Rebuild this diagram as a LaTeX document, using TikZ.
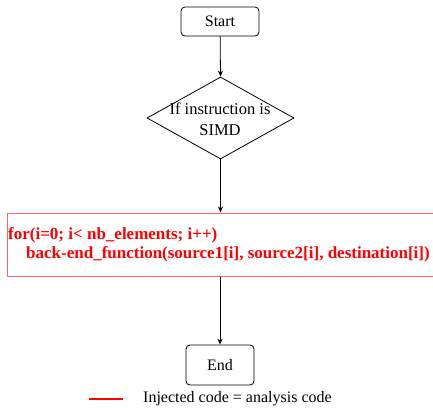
\documentclass[tikz,border=0pt]{standalone}
\usepackage{fontspec}
\setmainfont{Liberation Serif}
\usetikzlibrary{shapes.geometric,arrows.meta}
\begin{document}
\begin{tikzpicture}[x=1pt,y=-1pt,
  txt/.style={font=\fontsize{16}{18}\selectfont},
  term/.style={draw, line width=0.8pt, rounded corners=4pt, minimum width=78pt, minimum height=29pt, txt, inner sep=0pt},
  decision/.style={draw, line width=0.8pt, diamond, minimum width=147pt, minimum height=82pt, inner sep=0pt},
  conn/.style={draw, line width=0.8pt, -{Stealth[length=6pt,width=5pt]}},
  redtxt/.style={text=red, font=\bfseries\fontsize{17}{19}\selectfont, anchor=west, inner sep=0pt}
]
\useasboundingbox (0,0) rectangle (433,407);
\clip (0,0) rectangle (433,407);
\node[term] (start) at (220,21.5) {Start};
\node[decision] (dec) at (220.5,118) {};
\node[font=\fontsize{16.5}{21}\selectfont, align=center, inner sep=0pt] (dectext) at (220,119) {If instruction is\\SIMD};
\node[draw=red!60, line width=1.2pt, minimum width=436pt, minimum height=63pt, anchor=north west, inner sep=0pt] (inj) at (7,212.5) {};
\node[redtxt] (l1) at (8,235) {for(i=0; i< nb\_elements; i++)};
\node[redtxt] (l2) at (26,254) {back-end\_function(source1[i], source2[i], destination[i])};
\node[term, minimum width=68pt, minimum height=40pt] (end) at (220,365) {End};
\coordinate (lg1) at (89,399);
\coordinate (lg2) at (123,399);
\draw[red, line width=1.4pt] (lg1) -- (lg2);
\node[txt, anchor=west, inner sep=0pt] (lgt) at (143,399) {Injected code = analysis code};
\draw[conn] (start) -- (dec.north);
\draw[conn] (dec.south) -- (dec.south |- inj.north);
\draw[conn] (inj.south -| end) -- (end.north);
\end{tikzpicture}
\end{document}
